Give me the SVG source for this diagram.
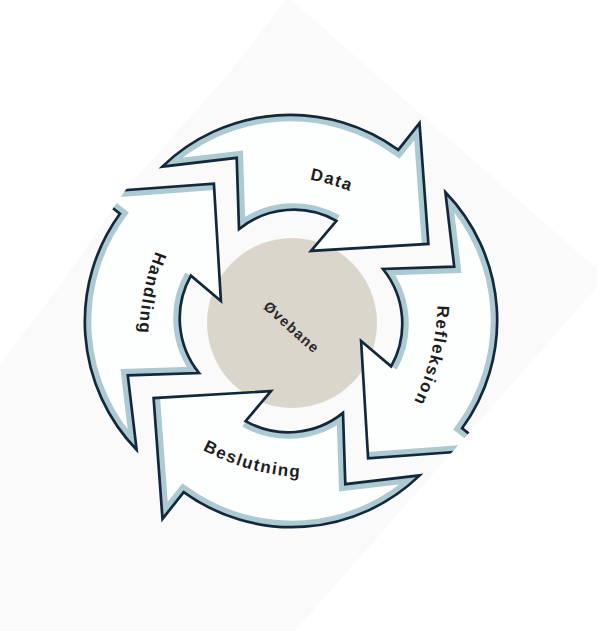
<svg xmlns="http://www.w3.org/2000/svg" width="597" height="631" viewBox="0 0 597 631">
<defs>
<style>
.lbl{font-family:"Liberation Sans",Arial,sans-serif;font-weight:bold;font-size:17px;fill:#1d1d1d;letter-spacing:1.5px}
.ctr{font-family:"Liberation Sans",Arial,sans-serif;font-weight:bold;font-size:14.5px;fill:#2a2a2a;letter-spacing:1.2px}
.afill{fill:#fdfefe;stroke:none}
.band{fill:none;stroke:#adcad3;stroke-width:13;stroke-linejoin:miter}
.edge{fill:none;stroke:#13283a;stroke-width:2.7;stroke-linejoin:miter}
</style>
<path id="arrowShape" d="M162.3,166.6 A184,184 0 0 1 398.3,149.9 L419.5,123.1 L428.4,243.9 L311,250.9 L336.4,220.9 A87,87 0 0 0 239,229.1 L236.7,157.8 Z"/>
<path id="bandPath" d="M336.4,220.9 A87,87 0 0 0 239,229.1 L236.7,157.8 L162.3,166.6 A184,184 0 0 1 398.3,149.9 L419.5,123.1 L428.4,243.9"/>
<clipPath id="arrowClip"><use href="#arrowShape"/></clipPath>
<clipPath id="photoClip"><path d="M288,-3 L606,277 L295,631 L-5,631 L-5,370 L57,290 L127,188 L230,72 Z"/></clipPath>
<path id="tpData" d="M231.6,178.1 A230,230 0 0 1 417.6,232.2"/>
<path id="tpRefl" d="M433.1,256.1 A230,230 0 0 1 386.9,444.2"/>
<path id="tpBesl" d="M162.5,422.8 A230,230 0 0 0 349.3,474.2"/>
<path id="tpHand" d="M183.6,201.1 A230,230 0 0 0 145.9,391.1"/>
</defs>
<rect width="597" height="631" fill="#ffffff"/>
<g clip-path="url(#photoClip)">
  <rect x="-10" y="-10" width="620" height="650" fill="#f9faf9"/>
  <g id="node-ovebane-circle">
    <circle cx="292" cy="323" r="85" fill="#dbd6cc"/>
  </g>
  <g id="node-data">
    <use href="#arrowShape" class="afill"/>
    <use href="#bandPath" class="band" clip-path="url(#arrowClip)"/>
    <use href="#arrowShape" class="edge"/>
    <text class="lbl"><textPath href="#tpData" startOffset="50%" text-anchor="middle">Data</textPath></text>
  </g>
  <g id="node-refleksion">
    <g transform="rotate(90 291 321)">
      <use href="#arrowShape" class="afill"/>
      <use href="#bandPath" class="band" clip-path="url(#arrowClip)"/>
      <use href="#arrowShape" class="edge"/>
    </g>
    <text class="lbl"><textPath href="#tpRefl" startOffset="50%" text-anchor="middle">Refleksion</textPath></text>
  </g>
  <g id="node-beslutning">
    <g transform="rotate(180 291 321)">
      <use href="#arrowShape" class="afill"/>
      <use href="#bandPath" class="band" clip-path="url(#arrowClip)"/>
      <use href="#arrowShape" class="edge"/>
    </g>
    <text class="lbl"><textPath href="#tpBesl" startOffset="50%" text-anchor="middle">Beslutning</textPath></text>
  </g>
  <g id="node-handling">
    <g transform="rotate(270 291 321)">
      <use href="#arrowShape" class="afill"/>
      <use href="#bandPath" class="band" clip-path="url(#arrowClip)"/>
      <use href="#arrowShape" class="edge"/>
    </g>
    <text class="lbl"><textPath href="#tpHand" startOffset="50%" text-anchor="middle">Handling</textPath></text>
  </g>
  <g id="node-ovebane-label">
    <text class="ctr" x="291.7" y="327.3" dy="5" text-anchor="middle" transform="rotate(42 291.7 327.3)">Øvebane</text>
  </g>
</g>
</svg>
